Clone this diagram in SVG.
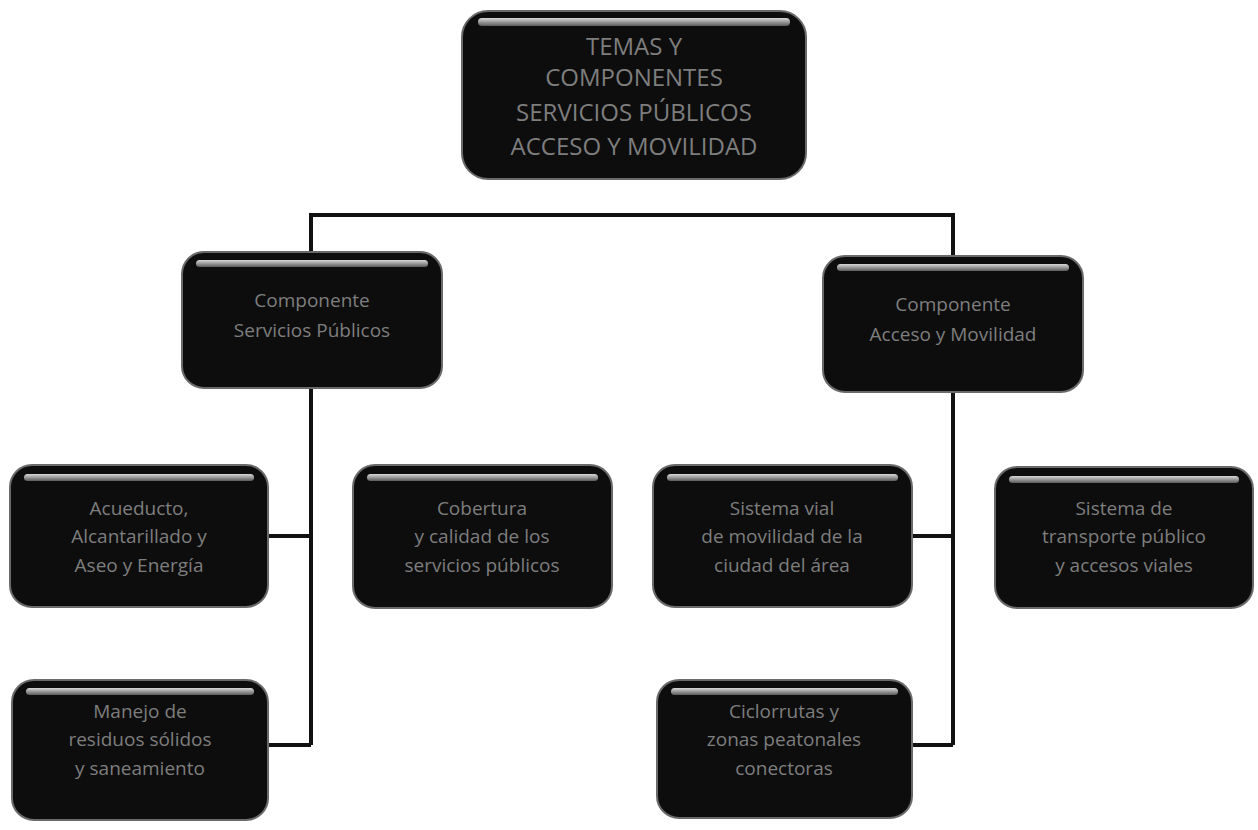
<svg xmlns="http://www.w3.org/2000/svg" width="1258" height="830" viewBox="0 0 1258 830">
<style>
.box{fill:#0d0d0d;stroke:#6a6a6a;stroke-width:2}
.hl{fill:url(#hlg)}
.t{font-family:"Open Sans","Liberation Sans",sans-serif;fill:#7e7e7e;text-anchor:middle}
.tt{font-size:24px}
.t2{font-size:19px}
.t3{font-size:19px}
.ln{stroke:#111;stroke-width:4;fill:none}
</style>
<defs>
<linearGradient id="hlg" x1="0" y1="0" x2="0" y2="1">
<stop offset="0" stop-color="#d8d8d8"/>
<stop offset="1" stop-color="#5a5a5a"/>
</linearGradient>
</defs>
<rect width="1258" height="830" fill="#ffffff"/>
<g id="connectors">
<path class="ln" d="M311 252 V215 H953 V257"/>
<path class="ln" d="M311 388 V745"/>
<path class="ln" d="M268 536 H311"/>
<path class="ln" d="M268 745 H311"/>
<path class="ln" d="M953 392 V745"/>
<path class="ln" d="M912 536 H953"/>
<path class="ln" d="M912 745 H953"/>
</g>
<g id="top">
<rect class="box" x="462" y="11" width="344" height="168" rx="26"/>
<rect class="hl" x="478" y="18" width="312" height="8" rx="4"/>
<text class="t tt" x="634" y="55">TEMAS Y</text>
<text class="t tt" x="634" y="86">COMPONENTES</text>
<text class="t tt" x="634" y="121">SERVICIOS PÚBLICOS</text>
<text class="t tt" x="634" y="155">ACCESO Y MOVILIDAD</text>
</g>
<g id="n-servicios">
<rect class="box" x="182" y="252" width="260" height="136" rx="22"/>
<rect class="hl" x="196" y="260" width="232" height="7" rx="3.5"/>
<text class="t t2" x="312" y="307">Componente</text>
<text class="t t2" x="312" y="337">Servicios Públicos</text>
</g>
<g id="n-acceso">
<rect class="box" x="823" y="256" width="260" height="136" rx="22"/>
<rect class="hl" x="837" y="264" width="232" height="7" rx="3.5"/>
<text class="t t2" x="953" y="311">Componente</text>
<text class="t t2" x="953" y="341">Acceso y Movilidad</text>
</g>
<g id="n-acueducto">
<rect class="box" x="10" y="465" width="258" height="142" rx="22"/>
<rect class="hl" x="24" y="474" width="230" height="7" rx="3.5"/>
<text class="t t3" x="139" y="515">Acueducto,</text>
<text class="t t3" x="139" y="543">Alcantarillado y</text>
<text class="t t3" x="139" y="572">Aseo y Energía</text>
</g>
<g id="n-cobertura">
<rect class="box" x="353" y="465" width="259" height="143" rx="22"/>
<rect class="hl" x="367" y="474" width="231" height="7" rx="3.5"/>
<text class="t t3" x="482" y="515">Cobertura</text>
<text class="t t3" x="482" y="543">y calidad de los</text>
<text class="t t3" x="482" y="572">servicios públicos</text>
</g>
<g id="n-sistema">
<rect class="box" x="653" y="465" width="259" height="142" rx="22"/>
<rect class="hl" x="667" y="474" width="231" height="7" rx="3.5"/>
<text class="t t3" x="782" y="515">Sistema vial</text>
<text class="t t3" x="782" y="543">de movilidad de la</text>
<text class="t t3" x="782" y="572">ciudad del área</text>
</g>
<g id="n-transporte">
<rect class="box" x="995" y="467" width="258" height="141" rx="22"/>
<rect class="hl" x="1009" y="476" width="230" height="7" rx="3.5"/>
<text class="t t3" x="1124" y="515">Sistema de</text>
<text class="t t3" x="1124" y="543">transporte público</text>
<text class="t t3" x="1124" y="572">y accesos viales</text>
</g>
<g id="n-residuos">
<rect class="box" x="12" y="680" width="256" height="140" rx="22"/>
<rect class="hl" x="26" y="688" width="228" height="7" rx="3.5"/>
<text class="t t3" x="140" y="718">Manejo de</text>
<text class="t t3" x="140" y="746">residuos sólidos</text>
<text class="t t3" x="140" y="775">y saneamiento</text>
</g>
<g id="n-ciclorrutas">
<rect class="box" x="657" y="680" width="255" height="138" rx="22"/>
<rect class="hl" x="671" y="688" width="227" height="7" rx="3.5"/>
<text class="t t3" x="784" y="718">Ciclorrutas y</text>
<text class="t t3" x="784" y="746">zonas peatonales</text>
<text class="t t3" x="784" y="775">conectoras</text>
</g>
</svg>
